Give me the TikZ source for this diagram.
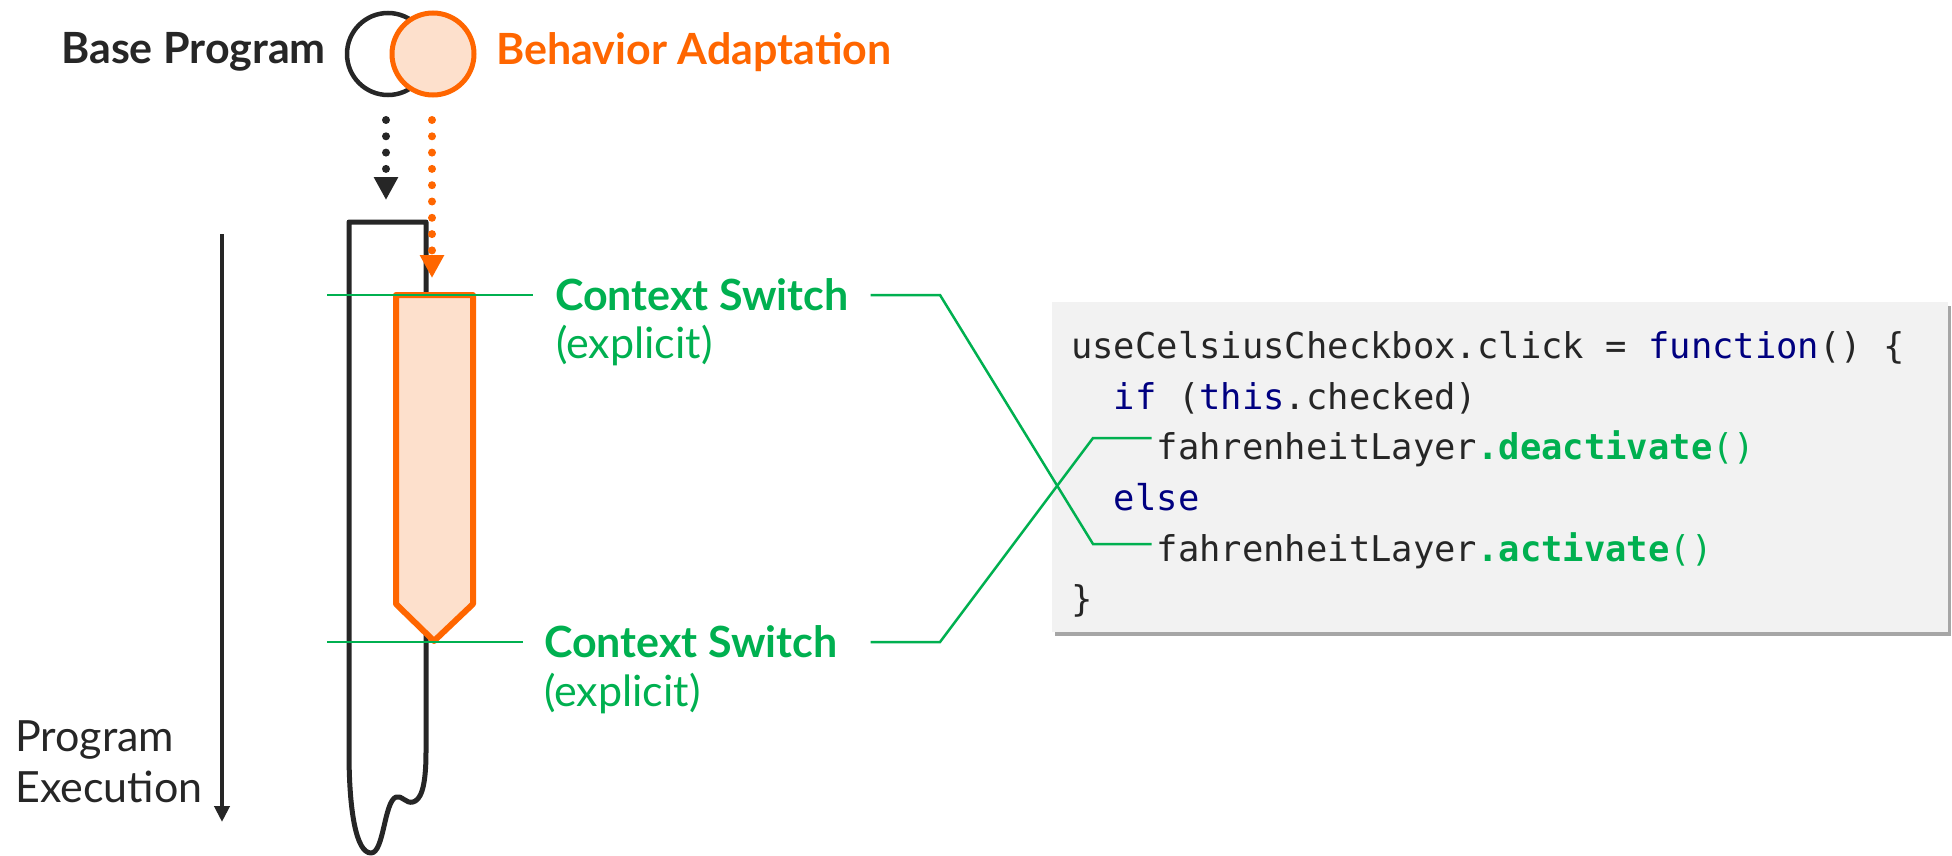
\documentclass[tikz,border=0pt]{standalone}
\usepackage{fontspec}
\setmainfont{Lato}
\newfontfamily\codefont{DejaVu Sans Mono}
\usetikzlibrary{arrows.meta,shadows,calc}
\definecolor{ink}{HTML}{262626}
\definecolor{adapt}{HTML}{FF6600}
\definecolor{adaptfill}{HTML}{FDE0CC}
\definecolor{switch}{HTML}{00B050}
\definecolor{kw}{HTML}{000080}
\definecolor{codebg}{HTML}{F2F2F2}
\begin{document}
\begin{tikzpicture}[x=1pt,y=-1pt,
  lbl/.style={font=\fontsize{43}{51}\selectfont, inner sep=0pt},
  boldlbl/.style={lbl, font=\fontsize{43}{51}\selectfont\bfseries},
  dotarrow/.style={line width=8pt, line cap=round, dash pattern=on 0pt off 16.3pt,
    -{Triangle[length=23pt,width=23pt,line cap=butt]}},
  leader/.style={switch, line width=2.5pt},
  codeline/.style={anchor=base west, inner sep=0pt, text=ink,
    font=\fontsize{35.5}{40}\selectfont\codefont},
  codebox/.style={fill=codebg, draw=none, inner sep=0pt,
    drop shadow={shadow xshift=3pt, shadow yshift=-4pt, fill=black, opacity=0.35}},
]
\useasboundingbox (0,0) rectangle (1952,856);

% the two layers
\node[circle, draw=ink, line width=4.5pt, minimum size=82pt, inner sep=0pt] (basecirc) at (388,54) {};
\node[circle, draw=adapt, fill=adaptfill, line width=5pt, minimum size=82pt, inner sep=0pt] (adaptcirc) at (433,54) {};
\node[boldlbl, text=ink, anchor=east] (basename) at (326,52) {Base Program};
\node[boldlbl, text=adapt, anchor=west] (adaptname) at (496,52) {Behavior Adaptation};

% execution direction
\node[lbl, text=ink, align=left, anchor=north west] (exec) at (15,720) {Program\\Execution};
\coordinate (timestart) at (222,234);
\coordinate (timeend) at (222,822);
\draw[ink, line width=4pt, -{Triangle[length=16pt,width=15pt]}] (timestart) -- (timeend);

% base program thread
\draw[ink, line width=5pt, line join=round]
  (349,222) -- (426,222) -- (426,752)
  .. controls (426,790) and (420,800) .. (413,802)
  .. controls (406,804) and (402,795) .. (396,797)
  .. controls (384,802) and (384,853) .. (371,853)
  .. controls (356,853) and (349,810) .. (349,752) -- cycle;

% adaptation segment
\draw[adapt, fill=adaptfill, line width=6pt, line join=round]
  (396,295) -- (473,295) -- (473,604) -- (434,641) -- (396,604) -- cycle;

% composition arrows
\coordinate (basefrom) at (386,120);
\coordinate (baseto) at (386,200);
\coordinate (adaptfrom) at (432,120);
\coordinate (adaptto) at (432,278);
\draw[dotarrow, ink] (basefrom) -- (baseto);
\draw[dotarrow, adapt] (adaptfrom) -- (adaptto);

% source code
\node[codebox, minimum width=896pt, minimum height=330pt, anchor=north west] (code) at (1052,302) {};
\node[codeline] (l1) at (1071,358) {useCelsiusCheckbox.click = \textcolor{kw}{function}() \{};
\node[codeline] (l2) at (1113.7,409) {\textcolor{kw}{if} (\textcolor{kw}{this}.checked)};
\node[codeline] (l3) at (1156.5,459) {fahrenheitLayer\textcolor{switch}{\bfseries.deactivate}\textcolor{switch}{()}};
\node[codeline] (l4) at (1113.7,510) {\textcolor{kw}{else}};
\node[codeline] (l5) at (1156.5,561) {fahrenheitLayer\textcolor{switch}{\bfseries.activate}\textcolor{switch}{()}};
\node[codeline] (l6) at (1071,611) {\}};

% context switches
\node[boldlbl, text=switch, anchor=west, inner xsep=22pt] (cs1) at (533,295) {Context Switch};
\node[lbl, text=switch, anchor=west] (ex1) at (556,346) {(explicit)};
\node[boldlbl, text=switch, anchor=west, inner xsep=21pt] (cs2) at (523,642) {Context Switch};
\node[lbl, text=switch, anchor=west] (ex2) at (544,694) {(explicit)};

\coordinate (in1) at (327,295);
\coordinate (in2) at (327,642);
\coordinate (bend1) at (940,295);
\coordinate (bend2) at (940,642);
\coordinate (cross1) at (1093,544);
\coordinate (cross2) at (1093,438);
\draw[leader] (in1) -- (cs1.west);
\draw[leader] (in2) -- (cs2.west);
\draw[leader] (cs1.east) -- (bend1) -- (cross1) -- ($(l5.base west)+(-5,-17)$);
\draw[leader] ($(cs2.east)+(12,0)$) -- (bend2) -- (cross2) -- ($(l3.base west)+(-5,-21)$);
\end{tikzpicture}
\end{document}
